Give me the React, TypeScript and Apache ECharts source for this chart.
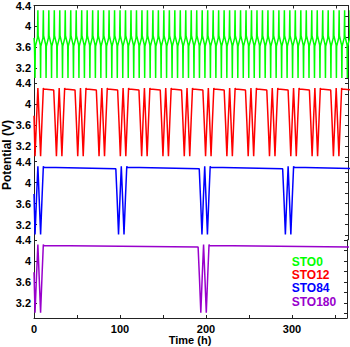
import React, { useEffect, useRef } from 'react';
import * as echarts from 'echarts';

const FONT = '"Liberation Sans", Arial, sans-serif';

const seriesNames = ['STO0', 'STO12', 'STO84', 'STO180'];
const seriesColors = ['#00ff00', '#ff0000', '#0000ff', '#9900cc'];
// storage (rest at full charge) between cycle blocks, hours
const storageHours = [0, 12, 84, 180];
// voltage reached at the end of each storage period
const storageEndVolts = [4.31, 4.27, 4.26, 4.26];
// cycles run between two storage periods
const cyclesBetweenStorage = [1, 2, 2, 2];
const cycleHours = 6.35;
// one charge/discharge cycle (hours into cycle, volts)
const sto0Cycle: [number, number][] = [
  [0.3, 3.82],
  [2.8, 3.64],
  [3.15, 3.01],
  [3.45, 3.62],
  [5.85, 3.78],
  [6.35, 4.31],
];
// one cycle as read from the STO12 / STO84 / STO180 traces
const storedCycle: [number, number][] = [
  [1.6, 3.66],
  [3.15, 3.01],
  [4.8, 3.7],
  [6.35, 4.31],
];
// first partial discharge and charge
const sto0Start: [number, number][] = [
  [0, 3.78],
  [0.5, 3.66],
  [1.2, 3.01],
  [1.5, 3.62],
  [4.0, 3.78],
  [4.5, 4.31],
];
const storedStart: [number, number][] = [
  [0, 3.78],
  [1.2, 3.01],
  [2.9, 3.7],
  [4.5, 4.31],
];
const storageSettle: [number, number] = [0.5, 4.29];

const timeMax = 364;
const timeTickStep = 50;
const timeLabelStep = 100;
const voltMin = 2.91;
const voltMax = 4.4;
const voltLabels = [3.2, 3.6, 4, 4.4];
const voltRightTicks = [3.0, 3.2, 3.4, 3.6, 3.8, 4.0, 4.2, 4.4];

function buildTrace(i: number): [number, number][] {
  const start = i === 0 ? sto0Start : storedStart;
  const cycle = i === 0 ? sto0Cycle : storedCycle;
  const pts: [number, number][] = start.map((p) => [p[0], p[1]] as [number, number]);
  let t = start[start.length - 1][0];
  const addCycle = () => {
    cycle.forEach(([dt, v]) => pts.push([t + dt, v]));
    t += cycleHours;
  };
  addCycle();
  while (t < timeMax + 8) {
    const s = storageHours[i];
    if (s > 0) {
      pts.push([t + storageSettle[0], storageSettle[1]]);
      pts.push([t + s, storageEndVolts[i]]);
      t += s;
    }
    for (let k = 0; k < cyclesBetweenStorage[i]; k++) addCycle();
  }
  return pts;
}

export default function App() {
  const ref = useRef<HTMLDivElement>(null);
  useEffect(() => {
    document.body.style.margin = '0';
    const chart = echarts.init(ref.current!, undefined, { renderer: 'svg' });
    const left = 34;
    const width = 314;
    const top0 = 5;
    const h = 78.25;
    const grids = seriesNames.map((_, i) => ({ left, width, top: top0 + i * h, height: h }));
    const axisLineStyle = { show: true, lineStyle: { color: '#222', width: 1 } };
    const xAxes = seriesNames.map((_, i) => ({
      type: 'value',
      gridIndex: i,
      min: 0,
      max: timeMax,
      interval: timeTickStep,
      show: i === 0 || i === seriesNames.length - 1,
      position: i === 0 ? 'top' : 'bottom',
      axisLine: axisLineStyle,
      axisTick: { show: true, inside: true, length: 3, lineStyle: { color: '#222' } },
      splitLine: { show: false },
      axisLabel: {
        show: i === seriesNames.length - 1,
        margin: 5,
        color: '#000',
        fontSize: 11,
        fontWeight: 'bold',
        fontFamily: FONT,
        formatter: (v: number) => (v % timeLabelStep === 0 && v <= 300 ? String(v) : ''),
      },
    }));
    const yAxes: any[] = [];
    seriesNames.forEach((_, i) => {
      yAxes.push({
        type: 'value',
        gridIndex: i,
        min: voltMin,
        max: voltMax,
        position: 'left',
        axisLine: axisLineStyle,
        axisTick: { show: true, inside: true, length: 3, customValues: voltLabels, lineStyle: { color: '#222' } },
        splitLine: { show: false },
        axisLabel: {
          customValues: voltLabels,
          margin: 3,
          color: '#000',
          fontSize: 11,
          fontWeight: 'bold',
          fontFamily: FONT,
          formatter: (v: number) => String(Math.round(v * 10) / 10),
        },
      });
      yAxes.push({
        type: 'value',
        gridIndex: i,
        min: voltMin,
        max: voltMax,
        position: 'right',
        axisLine: axisLineStyle,
        axisTick: { show: true, inside: true, length: 3, customValues: voltRightTicks, lineStyle: { color: '#222' } },
        splitLine: { show: false },
        axisLabel: { show: false },
      });
    });
    const series = seriesNames.map((name, i) => ({
      name,
      type: 'line',
      xAxisIndex: i,
      yAxisIndex: i * 2,
      data: buildTrace(i),
      showSymbol: false,
      symbol: 'none',
      clip: true,
      lineStyle: { color: seriesColors[i], width: 1.5 },
      itemStyle: { color: seriesColors[i] },
      silent: true,
    }));
    chart.setOption({
      animation: false,
      grid: grids,
      xAxis: xAxes,
      yAxis: yAxes,
      series,
      legend: {
        orient: 'vertical',
        left: 286.7,
        top: 255,
        padding: 0,
        icon: 'none',
        itemWidth: 0,
        itemHeight: 13.3,
        itemGap: 0,
        selectedMode: false,
        data: seriesNames.map((n, i) => ({ name: n, textStyle: { color: seriesColors[i] } })),
        textStyle: { fontSize: 12, fontWeight: 'bold', fontFamily: FONT, lineHeight: 13.3 },
      },
      graphic: [
        {
          type: 'text',
          x: 7,
          y: 155,
          rotation: Math.PI / 2,
          style: {
            text: 'Potential (V)',
            fill: '#000',
            font: `bold 12px ${FONT}`,
            textAlign: 'center',
            textVerticalAlign: 'middle',
          },
        },
        {
          type: 'text',
          x: 190,
          y: 340,
          style: {
            text: 'Time (h)',
            fill: '#000',
            font: `bold 11px ${FONT}`,
            textAlign: 'center',
            textVerticalAlign: 'middle',
          },
        },
      ],
    });
    return () => chart.dispose();
  }, []);
  return <div ref={ref} style={{ width: 350, height: 347 }} />;
}
